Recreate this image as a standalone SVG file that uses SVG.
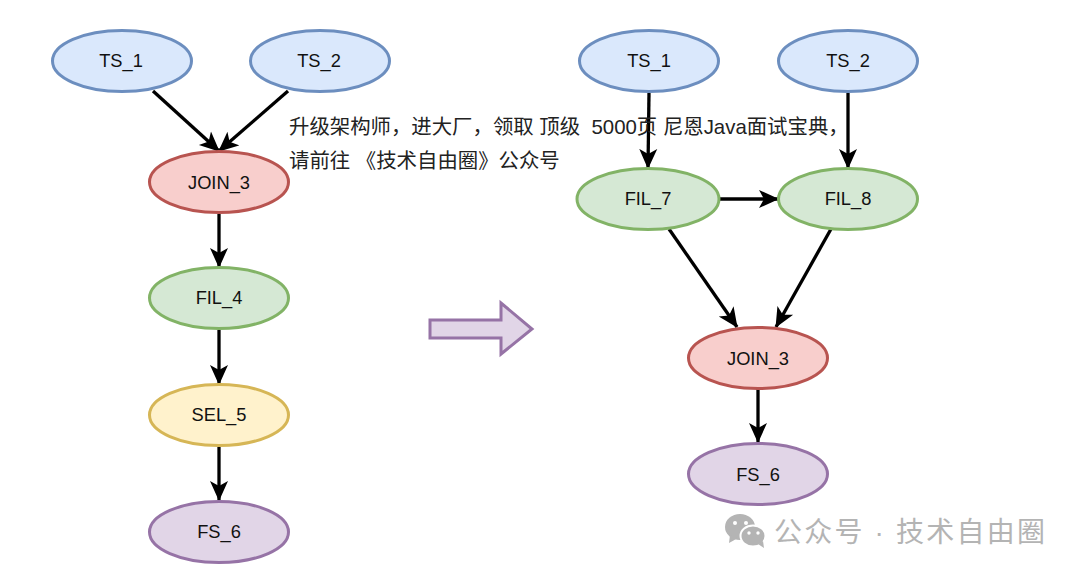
<svg xmlns="http://www.w3.org/2000/svg" width="1080" height="574" viewBox="0 0 1080 574">
<style>
text{font-family:"Liberation Sans","Noto Sans CJK SC",sans-serif;}
.n ellipse{stroke-width:3}
.n text{font-size:18.300px;fill:#111;text-anchor:middle}
.blue{fill:#dae8fc;stroke:#6c8ebf}
.red{fill:#f8cecc;stroke:#b85450}
.green{fill:#d5e8d4;stroke:#82b366}
.yellow{fill:#fff2cc;stroke:#d6b656}
.purple{fill:#e1d5e7;stroke:#9673a6}
.c line{stroke:#000;stroke-width:3.300;marker-end:url(#a)}
.t{font-size:20.400px;fill:#222;white-space:pre}
.w{font-size:28px;fill:#b4b4b4;letter-spacing:2.200px}
</style>
<defs><marker id="a" markerUnits="userSpaceOnUse" markerWidth="22" markerHeight="20" refX="19" refY="10" orient="auto"><path d="M0 1L20 10L0 19L5 10Z" fill="#000"/></marker></defs>
<g id="connectors" class="c">
<line x1="153" y1="91" x2="219" y2="151"/>
<line x1="288" y1="91" x2="219" y2="151"/>
<line x1="219" y1="214" x2="219" y2="267"/>
<line x1="219" y1="330" x2="219" y2="384"/>
<line x1="219" y1="447" x2="219" y2="500"/>
<line x1="649" y1="93" x2="648" y2="168"/>
<line x1="848" y1="93" x2="848" y2="168"/>
<line x1="720" y1="199" x2="778" y2="199"/>
<line x1="669" y1="229" x2="737" y2="327"/>
<line x1="831" y1="229" x2="776" y2="327"/>
<line x1="758" y1="389" x2="758" y2="442"/>
</g>
<g id="n1" class="n"><ellipse class="blue" cx="122" cy="61" rx="69.500" ry="30.500"/><text x="121" y="67">TS_1</text></g>
<g id="n2" class="n"><ellipse class="blue" cx="320" cy="61" rx="69.500" ry="30.500"/><text x="319" y="67">TS_2</text></g>
<g id="n3" class="n"><ellipse class="red" cx="219" cy="182" rx="69.500" ry="30.500"/><text x="219" y="189">JOIN_3</text></g>
<g id="n4" class="n"><ellipse class="green" cx="219" cy="298" rx="69.500" ry="30.500"/><text x="219" y="304">FIL_4</text></g>
<g id="n5" class="n"><ellipse class="yellow" cx="219" cy="415" rx="69.500" ry="30.500"/><text x="219" y="421">SEL_5</text></g>
<g id="n6" class="n"><ellipse class="purple" cx="219" cy="532" rx="69.500" ry="30.500"/><text x="219" y="538">FS_6</text></g>
<g id="n7" class="n"><ellipse class="blue" cx="649" cy="61" rx="69.500" ry="30.500"/><text x="649" y="67">TS_1</text></g>
<g id="n8" class="n"><ellipse class="blue" cx="848" cy="61" rx="69.500" ry="30.500"/><text x="848" y="67">TS_2</text></g>
<g id="n9" class="n"><ellipse class="green" cx="648" cy="199" rx="71" ry="30.500"/><text x="648" y="205">FIL_7</text></g>
<g id="n10" class="n"><ellipse class="green" cx="848" cy="199" rx="69.500" ry="30.500"/><text x="848" y="205">FIL_8</text></g>
<g id="n11" class="n"><ellipse class="red" cx="758" cy="358" rx="69.500" ry="30.500"/><text x="758" y="365">JOIN_3</text></g>
<g id="n12" class="n"><ellipse class="purple" cx="758" cy="474" rx="69.500" ry="30.500"/><text x="758" y="481">FS_6</text></g>
<g id="arrow"><path d="M430 320H501V303L532 329L501 354V338H430Z" fill="#e1d5e7" stroke="#9673a6" stroke-width="3"/></g>
<text class="t" x="289" y="134">升级架构师，进大厂，领取 顶级  5000页 尼恩Java面试宝典，</text>
<text class="t" x="289" y="168">请前往 《技术自由圈》公众号</text>
<g id="wechat" fill="#b4b4b4"><ellipse cx="740" cy="527" rx="15" ry="13"/><path d="M730 535L729 543L738 538Z"/><ellipse cx="753" cy="536" rx="12.500" ry="10.500" stroke="#fff" stroke-width="2"/><path d="M758 544L764 548L763 541Z"/><g fill="#fff"><circle cx="735" cy="523" r="2"/><circle cx="746" cy="523" r="2"/><circle cx="749" cy="533" r="1.700"/><circle cx="758" cy="533" r="1.700"/></g></g>
<text class="w" x="774" y="542">公众号 · 技术自由圈</text>
</svg>
